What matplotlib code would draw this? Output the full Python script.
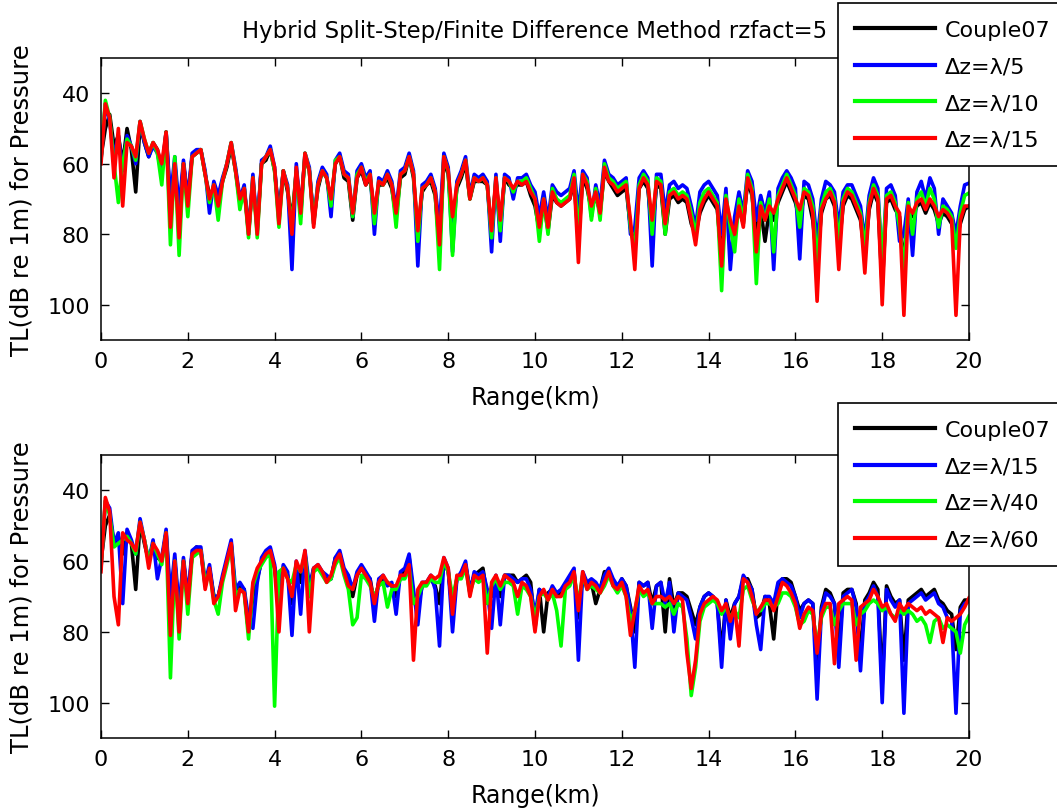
import numpy as np
import matplotlib
matplotlib.use("Agg")
import matplotlib.pyplot as plt

# range grid (km), one sample every 0.1 km
range_km = np.round(np.arange(201) * 0.1, 1)

# ---- upper panel : rzfact=5, dz = lambda/5, /10, /15
top_couple07 = [58, 50, 46, 55, 52, 60, 50, 56, 68, 49,
                54, 58, 54, 56, 62, 51, 72, 60, 75, 60,
                70, 58, 57, 56, 63, 69, 67, 71, 65, 61,
                55, 62, 71, 67, 79, 65, 78, 60, 59, 56,
                62, 74, 62, 68, 76, 62, 73, 58, 62, 76,
                67, 62, 64, 71, 60, 58, 64, 65, 76, 64,
                62, 66, 64, 74, 66, 66, 64, 67, 75, 64,
                63, 58, 64, 80, 68, 66, 65, 69, 84, 59,
                63, 78, 67, 64, 60, 70, 65, 65, 65, 66,
                80, 65, 78, 64, 66, 67, 66, 66, 65, 69,
                72, 79, 71, 79, 69, 71, 72, 71, 70, 65,
                82, 64, 67, 73, 69, 74, 62, 65, 67, 69,
                68, 67, 78, 84, 67, 65, 67, 80, 66, 67,
                80, 70, 69, 71, 70, 71, 77, 80, 74, 71,
                69, 71, 73, 87, 71, 79, 78, 73, 77, 65,
                69, 80, 73, 82, 73, 76, 71, 68, 65, 68,
                71, 76, 69, 70, 76, 88, 74, 70, 69, 72,
                84, 72, 69, 70, 73, 76, 86, 73, 68, 71,
                95, 71, 70, 73, 75, 89, 73, 75, 72, 71,
                74, 71, 73, 77, 74, 75, 77, 82, 77, 73,
                72]
top_dz5 = [59, 43, 48, 58, 52, 62, 52, 55, 60, 48,
           54, 58, 55, 57, 63, 51, 70, 58, 73, 59,
           70, 57, 56, 56, 62, 74, 65, 69, 64, 60,
           54, 61, 70, 66, 80, 63, 79, 59, 58, 55,
           61, 76, 62, 66, 90, 60, 75, 57, 61, 77,
           65, 61, 63, 75, 59, 57, 62, 63, 75, 62,
           60, 64, 62, 80, 64, 65, 62, 65, 73, 62,
           61, 57, 62, 89, 66, 65, 63, 67, 78, 57,
           61, 85, 65, 62, 58, 69, 63, 64, 63, 65,
           85, 63, 82, 63, 64, 70, 64, 64, 63, 66,
           68, 75, 68, 76, 66, 68, 69, 68, 67, 62,
           74, 62, 64, 75, 66, 72, 59, 63, 64, 66,
           65, 64, 80, 78, 64, 62, 64, 89, 63, 63,
           74, 66, 65, 67, 66, 67, 72, 78, 68, 66,
           65, 67, 69, 80, 67, 90, 75, 68, 74, 62,
           65, 76, 69, 74, 68, 90, 67, 64, 62, 64,
           67, 87, 65, 66, 70, 82, 70, 65, 66, 68,
           78, 68, 66, 66, 69, 72, 82, 69, 64, 67,
           90, 67, 66, 69, 82, 80, 70, 86, 68, 65,
           70, 64, 67, 80, 70, 72, 74, 80, 72, 66,
           65.5]
top_dz10 = [59, 42, 47, 60, 71, 60, 53, 55, 59, 48,
            53, 57, 54, 57, 66, 51, 83, 58, 86, 60,
            75, 58, 57, 56, 63, 71, 66, 76, 65, 60,
            54, 62, 73, 67, 81, 64, 81, 60, 58, 56,
            62, 78, 62, 67, 78, 62, 77, 57, 62, 77,
            66, 62, 64, 72, 59, 58, 63, 64, 75, 63,
            61, 65, 63, 77, 65, 66, 63, 66, 78, 63,
            62, 58, 63, 82, 67, 66, 64, 68, 90, 58,
            62, 86, 66, 63, 59, 70, 64, 65, 64, 66,
            81, 64, 79, 64, 65, 68, 65, 65, 64, 67,
            70, 82, 70, 80, 67, 70, 71, 70, 69, 63,
            80, 63, 65, 76, 67, 76, 60, 64, 65, 67,
            66, 65, 78, 85, 66, 63, 65, 80, 64, 65,
            80, 68, 67, 69, 68, 69, 74, 80, 71, 68,
            67, 69, 71, 96, 69, 78, 85, 70, 76, 63,
            67, 94, 71, 76, 70, 85, 69, 66, 63, 66,
            69, 78, 67, 68, 72, 88, 72, 68, 67, 70,
            82, 70, 67, 68, 71, 74, 84, 71, 66, 69,
            88, 69, 68, 71, 78, 90, 71, 80, 70, 68,
            72, 67, 70, 78, 72, 73, 75, 84, 74, 69,
            68.3]
top_dz15 = [60, 43, 47, 64, 50, 72, 54, 55, 58, 48,
            53, 57, 54, 56, 60, 51, 78, 60, 81, 60,
            72, 58, 57, 56, 63, 70, 66, 72, 65, 60,
            54, 62, 70, 67, 80, 64, 80, 60, 58, 56,
            61, 77, 62, 67, 80, 61, 74, 57, 62, 78,
            66, 62, 64, 70, 60, 58, 63, 64, 74, 64,
            61, 66, 63, 74, 65, 66, 63, 66, 74, 63,
            62, 58, 63, 79, 67, 66, 64, 68, 83, 58,
            62, 75, 66, 63, 59, 70, 64, 65, 64, 66,
            79, 64, 76, 64, 65, 67, 65, 66, 65, 68,
            70, 78, 70, 78, 68, 71, 72, 71, 70, 64,
            88, 63, 66, 72, 68, 74, 61, 65, 66, 68,
            67, 66, 76, 90, 67, 64, 66, 76, 65, 66,
            77, 69, 68, 70, 69, 70, 76, 83, 73, 70,
            68, 70, 72, 89, 70, 76, 80, 72, 78, 64,
            68, 85, 72, 76, 72, 74, 70, 67, 64, 67,
            70, 73, 68, 69, 74, 99, 73, 70, 68, 71,
            90, 71, 68, 69, 72, 75, 91, 72, 67, 70,
            100, 70, 69, 72, 74, 103, 72, 74, 71, 70,
            73, 70, 72, 75, 73, 74, 76, 103, 76, 72,
            72]

# ---- lower panel : dz = lambda/15, /40, /60
bot_couple07 = [60, 50, 47, 55, 53, 58, 52, 55, 68, 49,
                55, 60, 55, 59, 60, 52, 72, 60, 75, 60,
                71, 58, 56, 57, 67, 62, 70, 70, 65, 60,
                55, 70, 67, 68, 80, 70, 65, 60, 58, 57,
                62, 72, 62, 64, 72, 61, 66, 58, 70, 62,
                62, 63, 65, 65, 59, 58, 63, 65, 70, 64,
                62, 64, 65, 72, 66, 65, 66, 67, 70, 64,
                63, 59, 70, 73, 67, 66, 65, 67, 72, 60,
                63, 74, 65, 64, 61, 68, 64, 63, 62, 70,
                70, 65, 70, 64, 64, 64, 66, 65, 64, 66,
                79, 68, 80, 69, 68, 70, 69, 67, 65, 63,
                76, 64, 67, 66, 72, 68, 63, 63, 66, 68,
                65, 67, 73, 80, 66, 67, 66, 72, 67, 66,
                80, 65, 73, 69, 69, 70, 74, 78, 73, 70,
                69, 70, 72, 86, 71, 76, 72, 70, 65, 65,
                68, 76, 75, 70, 72, 82, 68, 65, 65, 66,
                70, 74, 72, 71, 72, 90, 73, 68, 69, 72,
                85, 69, 68, 68, 72, 86, 71, 69, 66, 68,
                95, 67, 70, 72, 71, 88, 71, 70, 69, 68,
                70, 69, 68, 71, 72, 74, 75, 85, 73, 71,
                71]
bot_dz15 = [62, 43, 45, 55, 52, 72, 51, 54, 58, 48,
            54, 60, 54, 65, 59, 51, 70, 58, 74, 59,
            70, 57, 56, 56, 66, 61, 70, 70, 64, 59,
            54, 68, 66, 68, 76, 79, 66, 59, 57, 56,
            61, 70, 61, 63, 81, 60, 75, 57, 67, 62,
            61, 63, 64, 65, 59, 57, 62, 64, 68, 63,
            61, 63, 65, 77, 65, 64, 67, 66, 75, 63,
            62, 58, 68, 78, 66, 66, 64, 68, 84, 59,
            62, 80, 65, 63, 60, 69, 63, 64, 63, 68,
            79, 64, 78, 64, 64, 65, 66, 65, 65, 68,
            75, 68, 69, 70, 67, 69, 68, 66, 64, 62,
            88, 63, 66, 65, 66, 68, 64, 62, 65, 67,
            65, 67, 74, 90, 66, 67, 66, 79, 67, 66,
            72, 66, 80, 69, 70, 71, 76, 82, 73, 70,
            69, 70, 72, 90, 71, 82, 72, 70, 64, 66,
            68, 78, 85, 70, 70, 72, 66, 65, 66, 67,
            70, 76, 72, 71, 72, 99, 74, 69, 70, 72,
            90, 70, 69, 68, 73, 91, 72, 70, 67, 70,
            100, 68, 71, 73, 71, 103, 72, 71, 70, 69,
            71, 70, 69, 72, 73, 76, 77, 103, 74, 72,
            71.3]
bot_dz40 = [62, 43, 47, 56, 55, 54, 53, 55, 58, 49,
            54, 60, 55, 58, 61, 52, 93, 60, 82, 60,
            75, 59, 58, 57, 66, 63, 71, 75, 66, 61,
            56, 70, 68, 69, 82, 67, 63, 61, 59, 58,
            101, 63, 62, 65, 66, 61, 63, 58, 70, 63,
            62, 64, 66, 65, 61, 59, 64, 68, 78, 76,
            64, 65, 67, 70, 67, 66, 73, 68, 68, 65,
            65, 62, 72, 70, 67, 67, 65, 66, 66, 60,
            63, 70, 65, 65, 62, 69, 65, 66, 65, 72,
            67, 65, 68, 66, 66, 67, 75, 67, 68, 70,
            76, 70, 69, 71, 69, 74, 84, 68, 67, 64,
            72, 64, 68, 67, 68, 69, 67, 64, 67, 69,
            67, 70, 77, 74, 68, 70, 69, 72, 72, 72,
            73, 72, 75, 72, 73, 82, 98, 90, 77, 73,
            72, 71, 72, 75, 73, 76, 74, 76, 68, 67,
            71, 74, 74, 72, 72, 73, 72, 69, 69, 70,
            73, 78, 77, 74, 75, 84, 76, 73, 73, 78,
            74, 72, 72, 72, 78, 75, 74, 72, 71, 72,
            74, 73, 75, 76, 74, 75, 74, 75, 77, 76,
            78, 83, 77, 76, 79, 78, 79, 80, 86, 78,
            75.5]
bot_dz60 = [63, 42, 46, 70, 78, 52, 54, 55, 57, 49,
            54, 62, 55, 57, 60, 52, 81, 60, 80, 60,
            72, 58, 57, 57, 68, 62, 72, 70, 65, 60,
            55, 74, 68, 69, 80, 66, 62, 60, 58, 57,
            62, 80, 62, 65, 70, 60, 63, 57, 80, 62,
            61, 63, 66, 64, 60, 58, 63, 67, 68, 64,
            62, 64, 66, 72, 66, 64, 66, 67, 67, 64,
            64, 61, 88, 68, 66, 66, 64, 65, 64, 59,
            62, 75, 64, 64, 61, 70, 64, 65, 64, 86,
            66, 64, 67, 64, 65, 66, 70, 66, 67, 70,
            80, 70, 68, 71, 68, 70, 70, 67, 66, 63,
            74, 63, 68, 66, 67, 69, 66, 63, 67, 68,
            66, 70, 81, 74, 67, 69, 68, 72, 70, 70,
            71, 70, 72, 70, 71, 86, 96, 88, 75, 72,
            71, 70, 71, 74, 72, 77, 73, 84, 65, 66,
            70, 75, 73, 71, 71, 74, 70, 66, 67, 69,
            72, 79, 75, 73, 74, 86, 75, 72, 72, 89,
            72, 71, 70, 71, 88, 73, 72, 71, 68, 70,
            73, 72, 75, 77, 72, 74, 72, 73, 74, 73,
            75, 74, 75, 76, 83, 76, 77, 76, 75, 73,
            70.4]

top_labels = ["Couple07", "\u0394z=\u03bb/5", "\u0394z=\u03bb/10", "\u0394z=\u03bb/15"]
bot_labels = ["Couple07", "\u0394z=\u03bb/15", "\u0394z=\u03bb/40", "\u0394z=\u03bb/60"]
line_colors = ["#000000", "#0000ff", "#00ff00", "#ff0000"]

plt.rcParams["font.family"] = ["DejaVu Sans"]
plt.rcParams["font.size"] = 16

W, H = 1057, 812
fig = plt.figure(figsize=(W / 100, H / 100), dpi=100)


def panel(rect, series, labels, legend_top_px, title=None):
    ax = fig.add_axes(rect)
    handles = []
    for ys, col in zip(series, line_colors):
        h, = ax.plot(range_km, ys, color=col, lw=2.6, solid_joinstyle="round")
        handles.append(h)
    ax.set_xlim(0, 20)
    ax.set_ylim(110, 30)
    ax.set_xticks(range(0, 21, 2))
    ax.set_yticks([40, 60, 80, 100])
    ax.tick_params(direction="in", length=6, width=1, top=True, right=True,
                   labelsize=16, pad=8)
    for s in ax.spines.values():
        s.set_linewidth(1.1)
    ax.set_xlabel("Range(km)", fontsize=17, labelpad=10)
    ax.set_ylabel("TL(dB re 1m) for Pressure", fontsize=17.5, labelpad=10)
    if title:
        ax.set_title(title, fontsize=16.4, pad=15)
    leg = fig.legend(handles, labels, loc="upper left",
                     bbox_to_anchor=(838 / W, 1 - legend_top_px / H),
                     fontsize=16, frameon=True, fancybox=False, framealpha=1,
                     edgecolor="black", borderpad=0.75, labelspacing=0.75,
                     handlelength=3.6, handletextpad=0.45, borderaxespad=0)
    leg.get_frame().set_linewidth(1.2)
    for ln in leg.get_lines():
        ln.set_linewidth(3.0)
    return ax


ax_top = panel([101 / W, 1 - 341 / H, 868 / W, 282 / H],
               [top_couple07, top_dz5, top_dz10, top_dz15], top_labels, 4,
               title="Hybrid Split-Step/Finite Difference Method rzfact=5")
ax_bot = panel([101 / W, 1 - 739 / H, 868 / W, 283 / H],
               [bot_couple07, bot_dz15, bot_dz40, bot_dz60], bot_labels, 404)

fig.savefig("out.png", dpi=100)
